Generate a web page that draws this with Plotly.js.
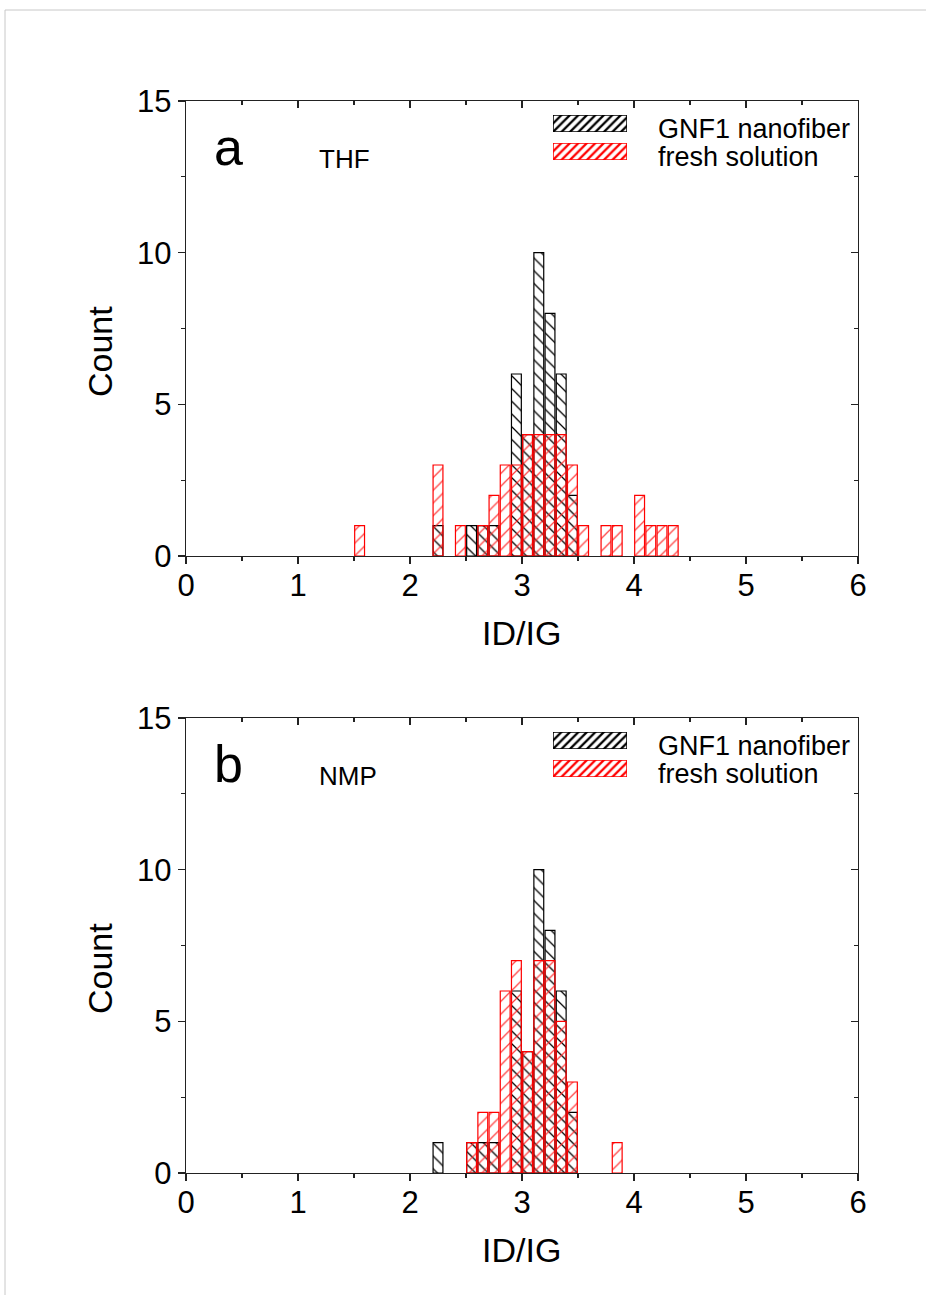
<!DOCTYPE html>
<html>
<head>
<meta charset="utf-8">
<script src="https://cdn.plot.ly/plotly-3.0.1.min.js"></script>
<style>
  html, body { margin: 0; padding: 0; background: #fff; }
  #chart { width: 926px; height: 1295px; }
</style>
</head>
<body>
<div id="chart"></div>
<script>
// ---- data (bin centres of width-0.1 histogram bins, counts) ----
const gnfX     = [2.25, 2.55, 2.65, 2.75, 2.95, 3.05, 3.15, 3.25, 3.35, 3.45];
const gnfCount = [1, 1, 1, 1, 6, 4, 10, 8, 6, 2];

const thfX     = [1.55, 2.25, 2.45, 2.65, 2.75, 2.85, 2.95, 3.05, 3.15, 3.25, 3.35, 3.45, 3.55, 3.75, 3.85, 4.05, 4.15, 4.25, 4.35];
const thfCount = [1, 3, 1, 1, 2, 3, 3, 4, 4, 4, 4, 3, 1, 1, 1, 2, 1, 1, 1];

const nmpX     = [2.55, 2.65, 2.75, 2.85, 2.95, 3.05, 3.15, 3.25, 3.35, 3.45, 3.85];
const nmpCount = [1, 2, 2, 6, 7, 4, 7, 7, 5, 3, 1];

const seriesNames = ['GNF1 nanofiber', 'fresh solution'];
const panelLetters = ['a', 'b'];
const solvents = ['THF', 'NMP'];
const xTitle = 'ID/IG';
const yTitle = 'Count';

// ---- geometry helpers (pixels -> paper) ----
const W = 926, H = 1295;
const px = x => x / W;
const py = y => 1 - y / H;
const FONT = 'Liberation Sans, Arial, sans-serif';
const AX = '#222';

const xDom = [px(186), px(858)];
const panels = [
  { top: 101, bottom: 556 },
  { top: 718, bottom: 1173 }
];

const BW = 0.088;
function blackBars(x, y, xa, ya) {
  return { type: 'bar', x: x, y: y, xaxis: xa, yaxis: ya, width: BW, showlegend: false, hoverinfo: 'skip',
    marker: { color: '#000', line: { color: '#000', width: 1.2 },
      pattern: { shape: '\\', size: 9, solidity: 0.14, fillmode: 'replace', fgcolor: '#000', bgcolor: 'rgba(0,0,0,0)' } } };
}
function redBars(x, y, xa, ya) {
  return { type: 'bar', x: x, y: y, xaxis: xa, yaxis: ya, width: BW, showlegend: false, hoverinfo: 'skip',
    marker: { color: '#ff0000', line: { color: '#ff0000', width: 1.2 },
      pattern: { shape: '/', size: 9, solidity: 0.14, fillmode: 'replace', fgcolor: '#ff2020', fgopacity: 0.85, bgcolor: 'rgba(0,0,0,0)' } } };
}

const traces = [
  blackBars(gnfX, gnfCount, 'x', 'y'),
  redBars(thfX, thfCount, 'x', 'y'),
  blackBars(gnfX, gnfCount, 'x2', 'y2'),
  redBars(nmpX, nmpCount, 'x2', 'y2'),
  { type: 'scatter', x: [], y: [], xaxis: 'x3', yaxis: 'y3', showlegend: false, hoverinfo: 'skip' },
  { type: 'scatter', x: [], y: [], xaxis: 'x4', yaxis: 'y4', showlegend: false, hoverinfo: 'skip' }
];

const layout = {
  width: W, height: H,
  margin: { l: 0, r: 0, t: 0, b: 0 },
  paper_bgcolor: '#fff', plot_bgcolor: 'rgba(0,0,0,0)',
  barmode: 'overlay',
  showlegend: false,
  font: { family: FONT, color: '#000' },
  shapes: [
    { type: 'rect', xref: 'paper', yref: 'paper', x0: px(5), x1: 1.2, y0: -0.2, y1: py(10),
      line: { color: '#c8c8c8', width: 1 }, layer: 'below' }
  ],
  annotations: []
};

function mainX(dom, anchor) {
  return { domain: dom, anchor: anchor, range: [0, 6], dtick: 1, tick0: 0,
    ticks: 'outside', ticklen: 7, tickwidth: 1.2, tickcolor: AX, ticklabelstandoff: -5,
    minor: { dtick: 0.5, ticks: 'outside', ticklen: 4, tickwidth: 1.2, tickcolor: AX },
    showline: true, linecolor: AX, linewidth: 1.2, mirror: true,
    showgrid: false, zeroline: false, fixedrange: true,
    tickfont: { family: FONT, size: 31, color: '#000' } };
}
function mainY(dom, anchor) {
  return { domain: dom, anchor: anchor, range: [0, 15], dtick: 5, tick0: 0,
    ticks: 'outside', ticklen: 7, tickwidth: 1.2, tickcolor: AX,
    minor: { dtick: 2.5, ticks: 'outside', ticklen: 4, tickwidth: 1.2, tickcolor: AX },
    showline: true, linecolor: AX, linewidth: 1.2, mirror: true,
    showgrid: false, zeroline: false, fixedrange: true,
    tickfont: { family: FONT, size: 31, color: '#000' } };
}
function overX(over, anchor) {
  return { overlaying: over, anchor: anchor, side: 'top', range: [0, 6], dtick: 1, tick0: 0,
    ticks: 'inside', ticklen: 7, tickwidth: 1.2, tickcolor: AX,
    minor: { dtick: 0.5, ticks: 'inside', ticklen: 4, tickwidth: 1.2, tickcolor: AX },
    showticklabels: false, showline: false, showgrid: false, zeroline: false, fixedrange: true };
}
function overY(over, anchor) {
  return { overlaying: over, anchor: anchor, side: 'right', range: [0, 15], dtick: 5, tick0: 0,
    ticks: 'inside', ticklen: 7, tickwidth: 1.2, tickcolor: AX,
    minor: { dtick: 2.5, ticks: 'inside', ticklen: 4, tickwidth: 1.2, tickcolor: AX },
    showticklabels: false, showline: false, showgrid: false, zeroline: false, fixedrange: true };
}

layout.xaxis  = mainX(xDom, 'y');
layout.yaxis  = mainY([py(panels[0].bottom), py(panels[0].top)], 'x');
layout.xaxis2 = mainX(xDom, 'y2');
layout.yaxis2 = mainY([py(panels[1].bottom), py(panels[1].top)], 'x2');
layout.xaxis3 = overX('x', 'y');
layout.yaxis3 = overY('y', 'x');
layout.xaxis4 = overX('x2', 'y2');
layout.yaxis4 = overY('y2', 'x2');

// legend swatches (hatched boxes) on small hidden axes, plus text
const swatchColors = ['#000', '#ff0000'];
let axN = 5;
panels.forEach((p, pi) => {
  const off = p.top - panels[0].top;
  const boxes = [[115, 132], [143, 160]];
  boxes.forEach((b, si) => {
    const xa = 'x' + axN, ya = 'y' + axN;
    layout['xaxis' + axN] = { domain: [px(553), px(627)], anchor: ya, range: [0, 1], visible: false, fixedrange: true };
    layout['yaxis' + axN] = { domain: [py(b[1] + off), py(b[0] + off)], anchor: xa, range: [-0.5, 0.5], visible: false, fixedrange: true };
    traces.push({ type: 'bar', orientation: 'h', x: [1], y: [0], width: 1, base: 0, xaxis: xa, yaxis: ya,
      showlegend: false, hoverinfo: 'skip', cliponaxis: false,
      marker: { color: swatchColors[si], line: { color: swatchColors[si], width: 1.5 },
        pattern: { shape: '/', size: 6, solidity: 0.38, fillmode: 'replace', fgcolor: swatchColors[si], bgcolor: 'rgba(0,0,0,0)' } } });
    layout.annotations.push({ xref: 'paper', yref: 'paper', x: px(656), y: py(b[0] + off + 14), xanchor: 'left', yanchor: 'middle',
      text: seriesNames[si], showarrow: false, font: { family: FONT, size: 27, color: '#000' } });
    axN++;
  });
  // panel letter and solvent
  layout.annotations.push({ xref: 'paper', yref: 'paper', x: px(212), y: py(147 + off), xanchor: 'left', yanchor: 'middle',
    text: panelLetters[pi], showarrow: false, font: { family: FONT, size: 52, color: '#000' } });
  layout.annotations.push({ xref: 'paper', yref: 'paper', x: px(317), y: py(159 + off), xanchor: 'left', yanchor: 'middle',
    text: solvents[pi], showarrow: false, font: { family: FONT, size: 26, color: '#000' } });
  // axis titles
  layout.annotations.push({ xref: 'paper', yref: 'paper', x: px(521), y: py(633 + off), xanchor: 'center', yanchor: 'middle',
    text: xTitle, showarrow: false, font: { family: FONT, size: 34, color: '#000' } });
  layout.annotations.push({ xref: 'paper', yref: 'paper', x: px(100), y: py(352 + off), xanchor: 'center', yanchor: 'middle',
    text: yTitle, textangle: -90, showarrow: false, font: { family: FONT, size: 34, color: '#000' } });
});

Plotly.newPlot('chart', traces, layout, { staticPlot: true, displayModeBar: false });
</script>
</body>
</html>
